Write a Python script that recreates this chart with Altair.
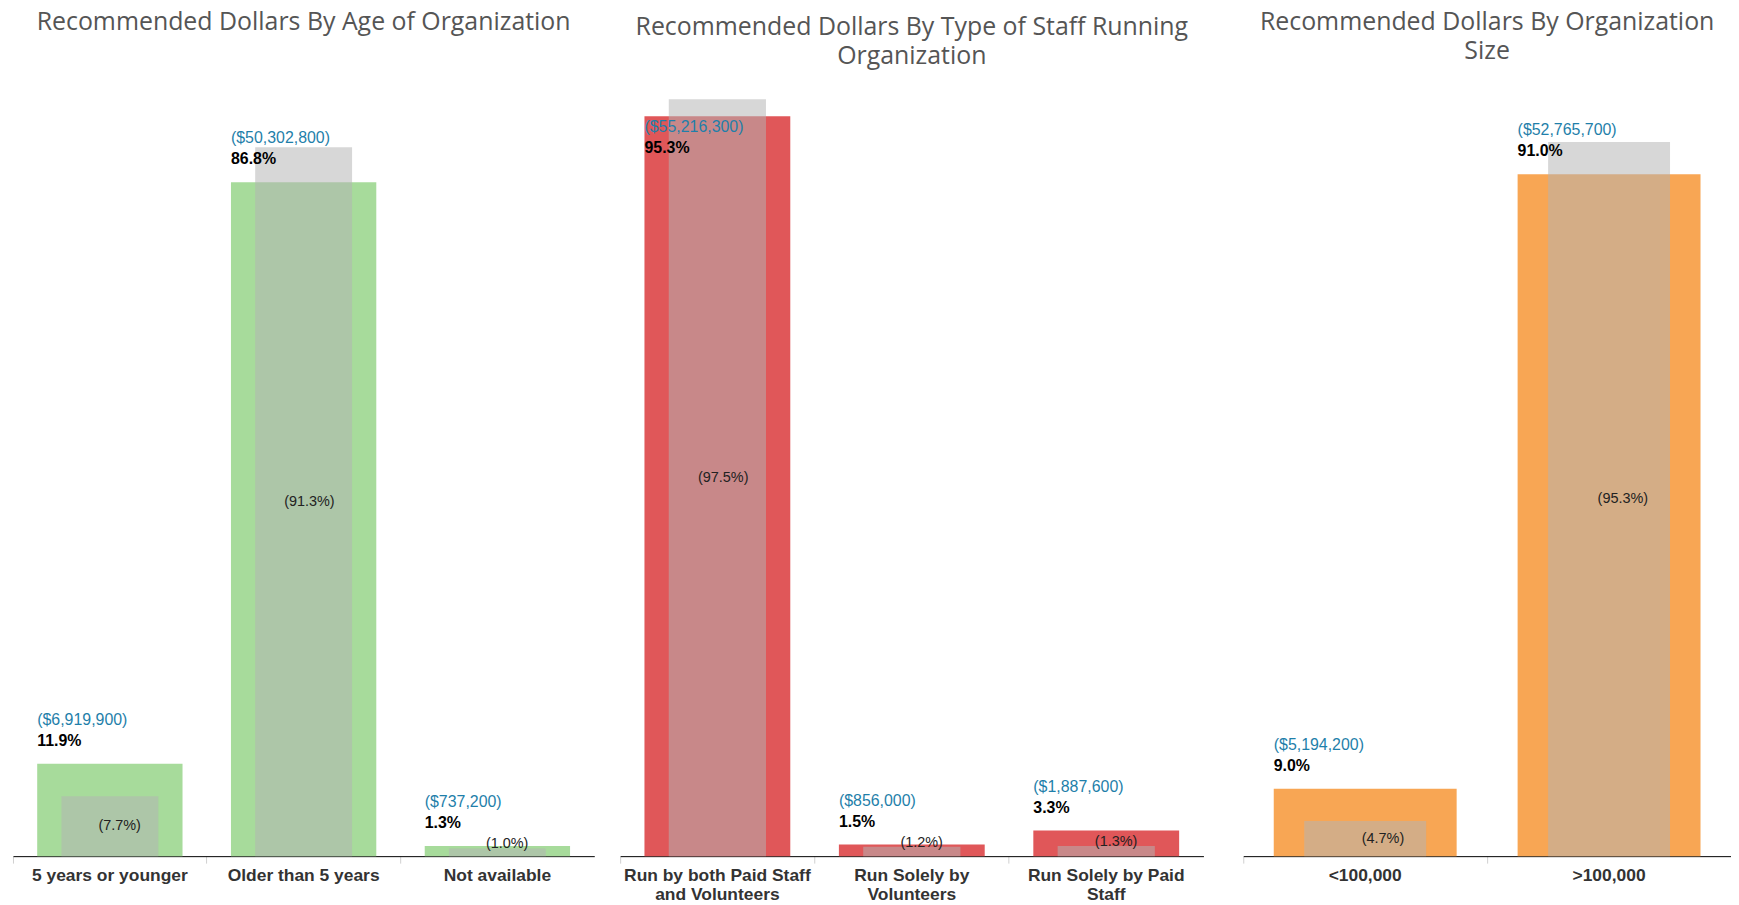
import altair as alt
import pandas as pd

# ---------------- data ----------------
age_categories = ["5 years or younger", "Older than 5 years", "Not available"]
age_dollar_pct = [11.9, 86.8, 1.3]
age_dollars = [6919900, 50302800, 737200]
age_count_pct = [7.7, 91.3, 1.0]

staff_categories = ["Run by both Paid Staff and Volunteers", "Run Solely by Volunteers", "Run Solely by Paid Staff"]
staff_dollar_pct = [95.3, 1.5, 3.3]
staff_dollars = [55216300, 856000, 1887600]
staff_count_pct = [97.5, 1.2, 1.3]

size_categories = ["<100,000", ">100,000"]
size_dollar_pct = [9.0, 91.0]
size_dollars = [5194200, 52765700]
size_count_pct = [4.7, 95.3]

label_wrap = {
    "Run by both Paid Staff and Volunteers": ["Run by both Paid Staff", "and Volunteers"],
    "Run Solely by Volunteers": ["Run Solely by", "Volunteers"],
    "Run Solely by Paid Staff": ["Run Solely by Paid", "Staff"],
}

TITLE_FONT = "Open Sans"
LABEL_FONT = "Liberation Sans"
HEIGHT = 780


def label_expr_for(cats):
    expr = "datum.label"
    for c in reversed(cats):
        if c in label_wrap:
            arr = "[" + ", ".join("'" + s + "'" for s in label_wrap[c]) + "]"
            expr = f"datum.value == '{c}' ? {arr} : ({expr})"
    return expr


def make_panel(cats, dollar_pct, dollars, count_pct, color, title_lines,
               title_offset, width, ymax, x_range=None, title_dx=0):
    df = pd.DataFrame({"cat": cats, "pct": dollar_pct, "dollars": dollars, "cnt": count_pct})
    px = HEIGHT / ymax
    thresh = ymax - 52 / px
    small = 20 / px

    scale_kw = dict(paddingInner=0, paddingOuter=0)
    if x_range is not None:
        scale_kw["range"] = x_range
    axis = alt.Axis(
        title=None, labelAngle=0, bandPosition=0, ticks=True, tickSize=7,
        tickColor="#d0d0d0", tickWidth=1, domainColor="#000000", domainWidth=1,
        labelFont=LABEL_FONT, labelFontSize=17.5, labelFontWeight="bold",
        labelColor="#333333", labelPadding=3, labelLineHeight=20,
        labelExpr=label_expr_for(cats), labelLimit=0, grid=False,
    )

    def X(bp=None):
        kw = {}
        if bp is not None:
            kw["bandPosition"] = bp
        return alt.X("cat:N", sort=cats, scale=alt.Scale(**scale_kw), axis=axis, **kw)

    yscale = alt.Scale(domain=[0, ymax], nice=False, zero=True)

    def Y(field):
        return alt.Y(field, scale=yscale, axis=None)

    base = alt.Chart(df).transform_calculate(
        dtext="'(' + format(datum.dollars, '$,') + ')'",
        ptext="format(datum.pct, '.1f') + '%'",
        gtext="'(' + format(datum.cnt, '.1f') + '%)'",
        half="datum.cnt / 2",
    )

    bars = base.mark_bar(color=color, width={"band": 0.75}).encode(x=X(), y=Y("pct:Q"))
    gray = base.mark_bar(color="#b4b4b4", opacity=0.53, width={"band": 0.5}).encode(x=X(), y=Y("cnt:Q"))

    fit = base.transform_filter(f"datum.pct <= {thresh}")
    over = base.transform_filter(f"datum.pct > {thresh}")

    def blue(src, dy):
        return src.mark_text(align="left", baseline="middle", dy=dy, font=LABEL_FONT,
                             fontSize=16, color="#1f7faa").encode(
            x=X(0.125), y=Y("pct:Q"), text="dtext:N")

    def black(src, dy):
        return src.mark_text(align="left", baseline="middle", dy=dy, font=LABEL_FONT,
                             fontSize=16, fontWeight="bold", color="#000000").encode(
            x=X(0.125), y=Y("pct:Q"), text="ptext:N")

    g_mid = base.transform_filter(f"datum.cnt >= {small}").mark_text(
        align="right", baseline="middle", font=LABEL_FONT, fontSize=14.5, color="#222222"
    ).encode(x=X(0.66), y=Y("half:Q"), text="gtext:N")
    g_top = base.transform_filter(f"datum.cnt < {small}").mark_text(
        align="right", baseline="bottom", dy=3, font=LABEL_FONT, fontSize=14.5, color="#222222"
    ).encode(x=X(0.66), y=Y("cnt:Q"), text="gtext:N")

    layers = [bars, gray, blue(fit, -44), black(fit, -23), blue(over, 11), black(over, 32), g_mid, g_top]
    return alt.layer(*layers).properties(
        width=width, height=HEIGHT,
        title=alt.TitleParams(
            text=title_lines, font=TITLE_FONT, fontSize=25, fontWeight="normal",
            color="#555555", anchor="middle", offset=title_offset, lineHeight=29, dx=title_dx,
        ),
    )


p1 = make_panel(age_categories, age_dollar_pct, age_dollars, age_count_pct, "#a7db9b",
                ["Recommended Dollars By Age of Organization"], 45, 584, 100)
p2 = make_panel(staff_categories, staff_dollar_pct, staff_dollars, staff_count_pct, "#e05759",
                ["Recommended Dollars By Type of Staff Running", "Organization"], 11, 586, 100)
p3 = make_panel(size_categories, size_dollar_pct, size_dollars, size_count_pct, "#f8a654",
                ["Recommended Dollars By Organization", "Size"], 16, 504, 103.6,
                x_range=[14, 504], title_dx=7)

chart = alt.hconcat(p1, p2, p3, spacing=26, bounds="flush").properties(
    padding={"left": 4, "top": 0, "right": 0, "bottom": 0},
    background="white",
).configure_view(stroke=None)

chart.save("out.html", embed_options={"renderer": "svg", "actions": False})
